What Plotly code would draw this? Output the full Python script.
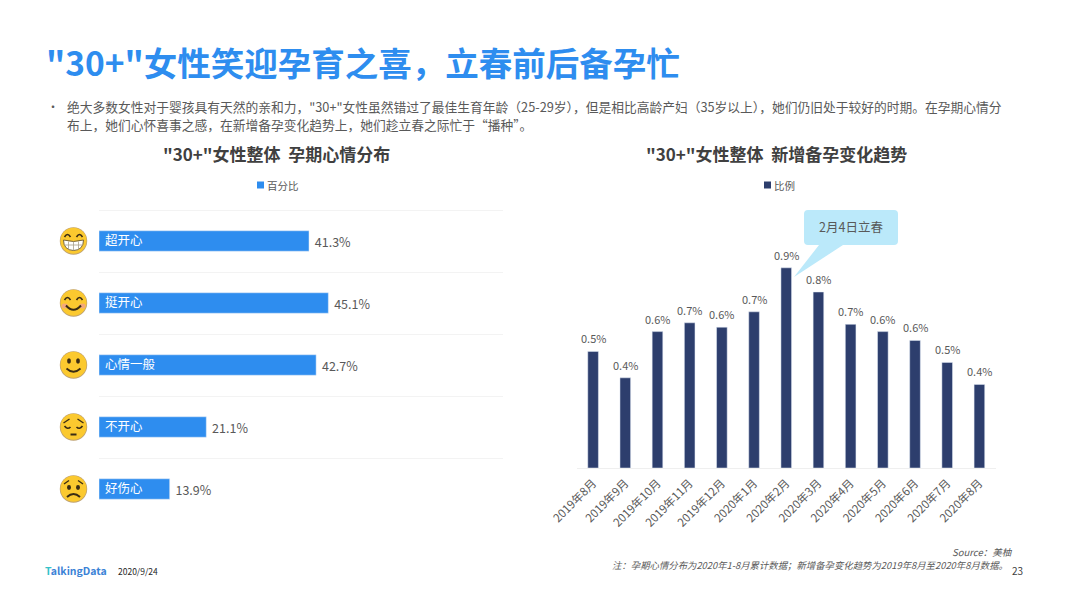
import plotly.graph_objects as go

W, H = 1066, 599
FONT = "Noto Sans CJK SC"
BLUE = "#2E8DEF"
NAVY = "#2D3E6D"
GREY = "#595959"

moods = ["超开心", "挺开心", "心情一般", "不开心", "好伤心"]
mood_pct = [41.3, 45.1, 42.7, 21.1, 13.9]

months = ["2019年8月", "2019年9月", "2019年10月", "2019年11月", "2019年12月", "2020年1月", "2020年2月",
          "2020年3月", "2020年4月", "2020年5月", "2020年6月", "2020年7月", "2020年8月"]
new_pct = [0.53, 0.41, 0.62, 0.66, 0.64, 0.71, 0.91, 0.80, 0.653, 0.62, 0.58, 0.48, 0.38]


def px(x):
    return x / W


def py(y):
    return 1 - y / H


def text(x, y, s, size=12, color=GREY, anchor="left", bold=False):
    if bold:
        s = "<b>" + s + "</b>"
    fig.add_annotation(x=px(x), y=py(y), xref="paper", yref="paper", text=s, showarrow=False,
                       xanchor=anchor, yanchor="middle", borderpad=0, borderwidth=0,
                       font=dict(size=size, color=color, family=FONT))


def face_path(cx, cy, cmds):
    # cmds are pixel offsets from the centre of the face
    out = []
    tokens = cmds.split()
    is_x = True
    for t in tokens:
        if t.isalpha():
            out.append(t)
            is_x = True
        elif is_x:
            out.append(str(px(cx + float(t))))
            is_x = False
        else:
            out.append(str(py(cy + float(t))))
            is_x = True
    return " ".join(out)


def face_shape(cx, cy, cmds, fill=None, line=None, width=1.6):
    fig.add_shape(type="path", xref="paper", yref="paper", path=face_path(cx, cy, cmds),
                  fillcolor=fill if fill else "rgba(0,0,0,0)",
                  line=dict(color=line if line else "rgba(0,0,0,0)", width=width))


def dot(cx, cy, dx, dy, rx, ry, color="#3A2C14"):
    fig.add_shape(type="circle", xref="paper", yref="paper", x0=px(cx + dx - rx), x1=px(cx + dx + rx),
                  y0=py(cy + dy + ry), y1=py(cy + dy - ry), fillcolor=color, line=dict(width=0))


def draw_face(cx, cy, kind):
    ink = "#3A2C14"
    dot(cx, cy, 0, 0, 13.7, 13.7, "#BFA271")
    dot(cx, cy, 0, -0.3, 13, 13, "#FBC92F")
    if kind == 0:
        face_shape(cx, cy, "M -9 -4 Q -6 -9 -3 -4", line=ink)
        face_shape(cx, cy, "M 3 -4 Q 6 -9 9 -4", line=ink)
        face_shape(cx, cy, "M -10 -1 Q 0 2 10 -1 Q 10 9 0 9.5 Q -10 9 -10 -1 Z", fill="#FFFFFF", line="#6B5A38", width=0.9)
        face_shape(cx, cy, "M -9.5 4 L 9.5 4 M -5 0.5 L -5 8.5 M 0 1 L 0 9 M 5 0.5 L 5 8.5", line="#A89F8C", width=0.8)
    elif kind == 1:
        dot(cx, cy, -8.8, 3, 3.2, 2.4, "#F3A97C")
        dot(cx, cy, 8.8, 3, 3.2, 2.4, "#F3A97C")
        face_shape(cx, cy, "M -9 -3 Q -6 -8 -3 -3", line=ink)
        face_shape(cx, cy, "M 3 -3 Q 6 -8 9 -3", line=ink)
        face_shape(cx, cy, "M -7.5 2.5 Q 0 11 7.5 2.5", line=ink, width=2)
    elif kind == 2:
        dot(cx, cy, -4.5, -4, 1.9, 2.7)
        dot(cx, cy, 4.5, -4, 1.9, 2.7)
        face_shape(cx, cy, "M -7 3.5 Q 0 10 7 3.5", line=ink, width=1.8)
    elif kind == 3:
        face_shape(cx, cy, "M -10 -4 L -4 -8", line=ink, width=1.3)
        face_shape(cx, cy, "M 10 -4 L 4 -8", line=ink, width=1.3)
        face_shape(cx, cy, "M -9 -1 Q -6 3 -3 0", line=ink)
        face_shape(cx, cy, "M 9 -1 Q 6 3 3 0", line=ink)
        face_shape(cx, cy, "M -3 7.5 L 3 7.5", line=ink, width=2)
    else:
        face_shape(cx, cy, "M -9.5 -5 L -4.5 -8.5", line=ink, width=1.3)
        face_shape(cx, cy, "M 9.5 -5 L 4.5 -8.5", line=ink, width=1.3)
        dot(cx, cy, -4.5, -1.5, 2, 2.4)
        dot(cx, cy, 4.5, -1.5, 2, 2.4)
        face_shape(cx, cy, "M -6.5 8 Q 0 2 6.5 8", line=ink, width=2)


def legend_key(x0, y, label, color):
    fig.add_shape(type="rect", xref="paper", yref="paper", x0=px(x0), x1=px(x0 + 7), y0=py(y + 3.5), y1=py(y - 3.5),
                  fillcolor=color, line=dict(width=0))
    text(x0 + 10, y, label, size=10.5)


fig = go.Figure()

# left chart
fig.add_trace(go.Bar(x=mood_pct, y=moods, orientation="h", marker_color=BLUE, xaxis="x", yaxis="y", name="百分比",
                     texttemplate="\u00a0%{x:.1f}%", textposition="outside", cliponaxis=False, constraintext="none",
                     textfont=dict(size=12.5, color=GREY, family=FONT), showlegend=False))

# right chart
fig.add_trace(go.Bar(x=months, y=new_pct, marker_color=NAVY, xaxis="x2", yaxis="y2", name="比例", showlegend=False))
for m, v in zip(months, new_pct):
    fig.add_annotation(x=m, y=v, xref="x2", yref="y2", text=f"{v:.1f}%", showarrow=False, yshift=13,
                       font=dict(size=11, color=GREY, family=FONT))

fig.update_layout(
    width=W, height=H, margin=dict(l=0, r=0, t=0, b=0, autoexpand=False), paper_bgcolor="white", plot_bgcolor="white",
    font=dict(family=FONT, color=GREY), bargap=0.67,
    xaxis=dict(domain=[px(99), px(503)], range=[0, 404 / 5.085], visible=False, anchor="y"),
    # range runs a little past the bands, otherwise the outer grid lines get dropped
    yaxis=dict(domain=[py(521.86), py(208.14)], type="category", categoryorder="array", categoryarray=moods,
               range=[4.53, -0.53], tickson="boundaries", showgrid=True, gridcolor="#F3F3F3", gridwidth=1,
               ticklabelposition="inside", ticklabelstandoff=3, ticks="", showline=False, zeroline=False,
               anchor="x", automargin=False, tickfont=dict(size=12.5, color="white", family=FONT)),
    xaxis2=dict(domain=[px(577), px(995.5)], type="category", tickangle=-45, showline=True, linecolor="#EFEFEF",
                ticks="", anchor="y2", automargin=False, ticklabelstandoff=3,
                tickfont=dict(size=11.5, color=GREY, family=FONT), showgrid=False),
    yaxis2=dict(domain=[py(468), py(220)], range=[0, 248 / 220], visible=False, anchor="x2"),
)

legend_key(257, 185, "百分比", BLUE)
legend_key(764, 185, "比例", NAVY)

# callout over the 2020年2月 bar
fig.add_shape(type="path", xref="paper", yref="paper", fillcolor="#BBE9FA", line=dict(width=0),
              path=face_path(0, 0, "M 808 210 L 894 210 Q 898 210 898 214 L 898 241 Q 898 245 894 245 "
                                   "L 843 245 L 794 277 L 819 245 L 808 245 Q 804 245 804 241 L 804 214 Q 804 210 808 210 Z"))
text(851, 226, "2月4日立春", size=12.5, color=GREY, anchor="center")

for i, cy in enumerate([241, 303, 365, 427, 489]):
    draw_face(73.5, cy, i)

text(46, 61, '"30+"女性笑迎孕育之喜，立春前后备孕忙', size=33.5, color=BLUE, bold=True)
text(47, 107, "•", size=12, color=GREY)
text(67, 107, '绝大多数女性对于婴孩具有天然的亲和力，"30+"女性虽然错过了最佳生育年龄（25-29岁），但是相比高龄产妇（35岁以上），她们仍旧处于较好的时期。在孕期心情分',
     size=12.75)
text(67, 124, "布上，她们心怀喜事之感，在新增备孕变化趋势上，她们趁立春之际忙于“播种”。", size=12.75)
text(276, 153, '"30+"女性整体\u00a0\u00a0孕期心情分布', size=17, color="#404040", anchor="center", bold=True)
text(776.5, 153, '"30+"女性整体\u00a0\u00a0新增备孕变化趋势', size=17, color="#404040", anchor="center", bold=True)

text(1013, 552, "<i>Source：美柚</i>", size=9.5, anchor="right")
text(1008, 564.5, "<i>注：孕期心情分布为2020年1-8月累计数据；新增备孕变化趋势为2019年8月至2020年8月数据。</i>", size=9.4, anchor="right")
text(1023, 570, "23", size=10, color="#404040", anchor="right")
text(45, 570, '<span style="color:#35C2C9">T</span>alkingData', size=10.5, color="#3B82D6", bold=True)
text(118, 570.5, "2020/9/24", size=8.5, color="#262626")

# the page body has a default 8px margin
fig.write_html("out.html", config=dict(displayModeBar=False), post_script="document.body.style.margin='0';")
